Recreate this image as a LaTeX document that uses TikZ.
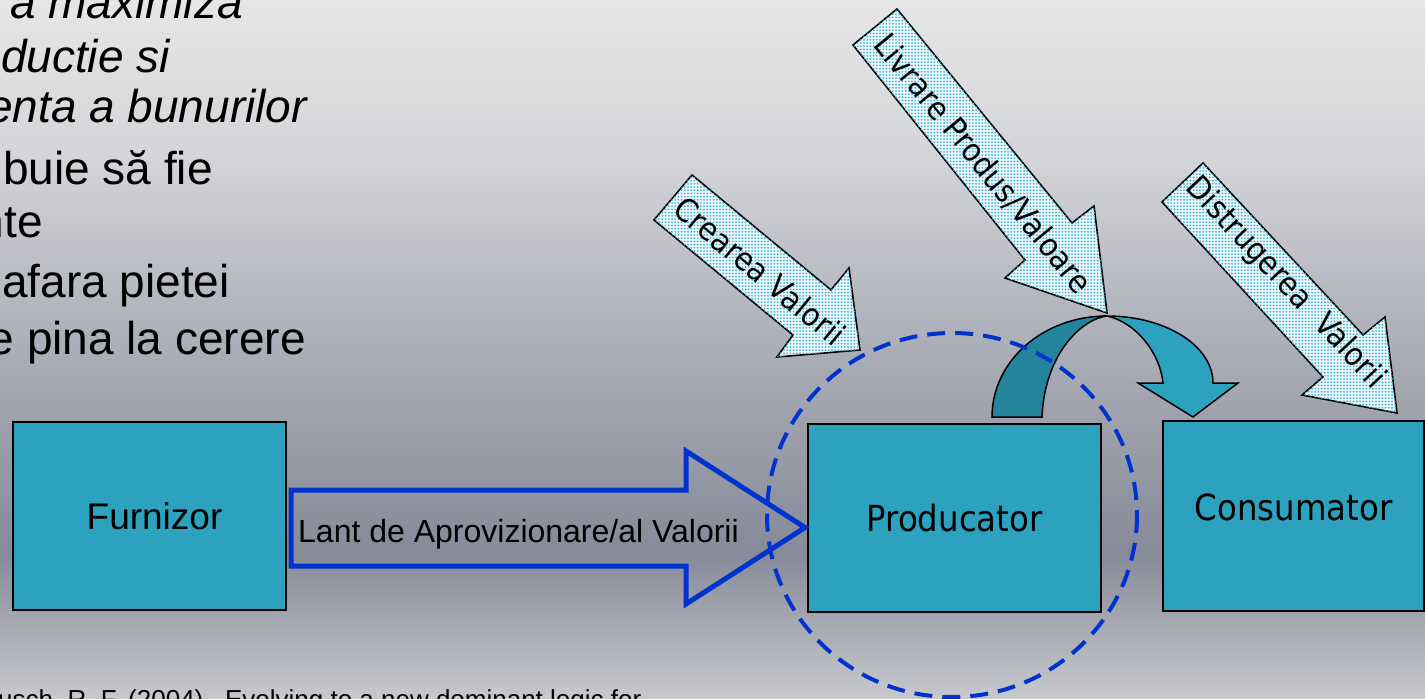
\documentclass[tikz,border=0pt]{standalone}
\usepackage{fontspec}
\setmainfont{Liberation Sans}
\newfontfamily\tahfont[FakeStretch=0.9]{DejaVu Sans}
\usetikzlibrary{patterns,calc}

% palette
\definecolor{boxteal}{HTML}{2CA2BE}
\definecolor{ribbondark}{HTML}{23849B}
\definecolor{chainblue}{HTML}{0033CC}
\definecolor{dotcyan}{HTML}{3FB2D2}
\definecolor{dotbase}{HTML}{EEF8FB}
\definecolor{bgA}{HTML}{C8C9CD}
\definecolor{bgB}{HTML}{868A99}
\definecolor{bgC}{HTML}{ABADB7}
\definecolor{bgD}{HTML}{D4D5D8}
\definecolor{bgE}{HTML}{E6E6E7}

% slide background; the path box is fitted to the 25bp..75bp band
\pgfdeclareverticalshading{slidebg}{100bp}{%
  color(0bp)=(bgA); color(25bp)=(bgA); color(35.44bp)=(bgB);
  color(49.97bp)=(bgC); color(63.98bp)=(bgD); color(75bp)=(bgE);
  color(100bp)=(bgE)}

% fine dot raster used inside the block arrows
\pgfdeclarepatternformonly{cyandots}{\pgfqpoint{-1.2pt}{-1.2pt}}{\pgfqpoint{1.2pt}{1.2pt}}%
  {\pgfqpoint{3.2pt}{3.2pt}}%
  {\pgfpathcircle{\pgfqpoint{0pt}{0pt}}{1.0pt}\pgfusepath{fill}}

\tikzset{
  toptext/.style={anchor=base east, inner sep=0pt, font=\fontsize{46}{55}\selectfont},
  box/.style={draw=black, line width=2pt, fill=boxteal, inner sep=0pt},
  boxlabel/.style={inner sep=0pt},
  arialbig/.style={font=\fontsize{37}{44}\selectfont},
  tahbig/.style={font=\tahfont\fontsize{36}{43}\selectfont},
  chainarrow/.style={draw=chainblue, line width=5pt, line join=miter},
  dotarrow/.style={draw=black, line width=1.6pt, fill=dotbase, line join=miter,
    postaction={pattern=cyandots, pattern color=dotcyan}},
  arrowlabel/.style={inner sep=0pt, font=\tahfont\fontsize{32}{38}\selectfont},
  ribbonback/.style={draw=black, line width=1.5pt, fill=ribbondark},
  ribbonfront/.style={draw=black, line width=1.5pt, fill=boxteal, line join=miter},
  scopering/.style={draw=chainblue, line width=4pt, dash pattern=on 18pt off 10pt}
}

\begin{document}
\begin{tikzpicture}[x=1pt, y=-1pt]
  \useasboundingbox (0,0) rectangle (1425,699);
  \clip (0,0) rectangle (1425,699);
  \shade[shading=slidebg] (0,0) rectangle (1425,699);

  % bullet text running in from the left
  \node[toptext] (t1) at (243,18)  {\itshape a maximiza};
  \node[toptext] (t2) at (170,72)  {\itshape ductie si};
  \node[toptext] (t3) at (307,122) {\itshape enta a bunurilor};
  \node[toptext] (t4) at (213,184) {buie să fie};
  \node[toptext] (t5) at (43,237)  {nte};
  \node[toptext] (t6) at (230,297) {afara pietei};
  \node[toptext] (t7) at (306,354) {e pina la cerere};

  % reference line at the foot
  \node[anchor=base west, inner sep=0pt, font=\fontsize{26}{31}\selectfont]
    (cite) at (-2,708) {usch, R. F. (2004).\ \ Evolving to a new dominant logic for};

  % the three actors
  \node[box, minimum width=273pt, minimum height=188pt] (furn) at (149.5,516) {};
  \node[boxlabel, arialbig] (furnT) at ($(furn.center)+(5,0)$) {Furnizor};
  \node[box, minimum width=293pt, minimum height=188pt] (prod) at (954.5,518) {};
  \node[boxlabel, tahbig] (prodT) at (prod.center) {Producator};
  \node[box, minimum width=261pt, minimum height=190pt] (cons) at (1293.5,516) {};
  \node[boxlabel, tahbig] (consT) at ($(cons.center)+(0,-9)$) {Consumator};

  % supply / value chain block arrow
  \coordinate (chainTail) at ($(furn.east)+(4,12)$);
  \coordinate (chainTip) at ($(prod.west)+(-2,9.5)$);
  \draw[chainarrow]
    ($(chainTail)+(0,-38)$) -- (686,490) -- (686,451) -- (chainTip)
    -- (686,604) -- (686,566) -- ($(chainTail)+(0,38)$) -- cycle;
  \node[anchor=base west, inner sep=0pt, font=\fontsize{32}{38}\selectfont]
    (chainT) at (298,542) {Lant de Aprovizionare/al Valorii};

  % dotted block arrows
  \draw[dotarrow] (654,220) -- (692,175) -- (831,290) -- (849,268)
    -- (860,350) -- (777,357) -- (793,335) -- cycle;
  \node[arrowlabel, rotate=-39.6] (creT) at (760,271) {Crearea Valorii};

  \draw[dotarrow] (853,45) -- (897,9) -- (1072,223) -- (1094,206)
    -- (1107,313) -- (1005,278) -- (1025,260) -- cycle;
  \node[arrowlabel, rotate=-50.7] (livT) at (983,164) {Livrare Produs/Valoare};

  \draw[dotarrow] (1162,202) -- (1203,163) -- (1363,335) -- (1385,317)
    -- (1397,413) -- (1302,395) -- (1323,377) -- cycle;
  \node[arrowlabel, rotate=-47] (disT) at (1285,283) {Distrugerea\ \ Valorii};

  % curved hand-over arrow from producer to consumer
  \draw[ribbonback] (992,417) .. controls (992,361) and (1043,316) .. (1107,316)
    .. controls (1085,318) and (1045,350) .. (1042,417) -- cycle;
  \draw[ribbonfront] (1107,316) .. controls (1166,316) and (1213,346) .. (1213,383)
    -- (1238,383) -- (1193,417) -- (1138,383) -- (1163,383)
    .. controls (1160,352) and (1135,322) .. (1107,316) -- cycle;

  % producer scope
  \draw[scopering] (952,515) ellipse [x radius=185, y radius=182];
\end{tikzpicture}
\end{document}
